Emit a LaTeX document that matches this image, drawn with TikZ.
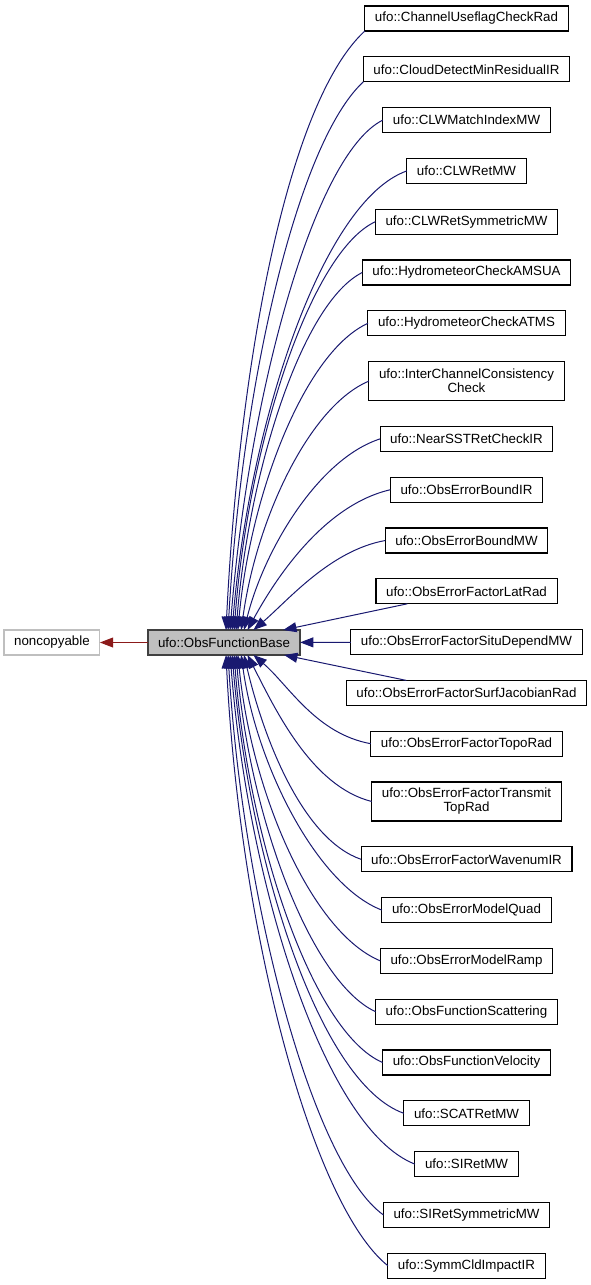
\documentclass[tikz,border=0pt]{standalone}
\usepackage{fontspec}
\setmainfont{Liberation Sans}
\usepackage{tikz}
\usetikzlibrary{arrows.meta}
\usetikzlibrary{positioning}
\definecolor{edgeblue}{HTML}{191970}
\definecolor{edgered}{HTML}{8B1A1A}
\definecolor{greyfill}{HTML}{BFBFBF}
\definecolor{greyline}{HTML}{404040}
\tikzstyle{block} = [draw, rectangle, fill = white, line width = 0.8pt, inner xsep = 7.6pt, inner ysep = 0pt, outer sep = 0pt, minimum height = 18.75pt, align = center, font = \fontsize{10}{10.5}\selectfont]
\tikzstyle{tall} = [minimum height = 29.25pt]
\tikzstyle{arrow} = [edgeblue, line width = 0.75pt, -{Triangle[length = 10pt, width = 7.5pt]}]
\tikzstyle{redarrow} = [edgered, line width = 0.75pt, -{Triangle[length = 10pt, width = 7.5pt]}]

\begin{document}
\begin{tikzpicture}[x = 0.75pt, y = -0.75pt]
		\useasboundingbox (0,0) rectangle (591,1285);
		
			% base class and its parent
			\node[block, fill = greyfill, draw = greyline, line width = 1pt] (obsbase) at (224,642.5) {ufo::ObsFunctionBase};
			\node[block, draw = greyfill, left = 36pt of obsbase] (noncopy) {noncopyable};
			
			% derived classes, upper half
			\node[block] (chanflag) at (466.5,18.5) {ufo::ChannelUseflagCheckRad};
			\node[block, below = 19.35pt of chanflag] (clouddet) {ufo::CloudDetectMinResidualIR};
			\node[block, below = 19.35pt of clouddet] (clwmatch) {ufo::CLWMatchIndexMW};
			\node[block, below = 19.35pt of clwmatch] (clwret) {ufo::CLWRetMW};
			\node[block, below = 19.35pt of clwret] (clwsym) {ufo::CLWRetSymmetricMW};
			\node[block, below = 19.35pt of clwsym] (hydroamsua) {ufo::HydrometeorCheckAMSUA};
			\node[block, below = 19.35pt of hydroamsua] (hydroatms) {ufo::HydrometeorCheckATMS};
			\node[block, tall, below = 19.35pt of hydroatms] (interchan) {ufo::InterChannelConsistency\\Check};
			\node[block, below = 19.35pt of interchan] (nearsst) {ufo::NearSSTRetCheckIR};
			\node[block, below = 19.35pt of nearsst] (boundir) {ufo::ObsErrorBoundIR};
			\node[block, below = 19.35pt of boundir] (boundmw) {ufo::ObsErrorBoundMW};
			
			% derived classes, middle
			\node[block, below = 19.35pt of boundmw] (latrad) {ufo::ObsErrorFactorLatRad};
			\node[block, below = 19.35pt of latrad] (situdep) {ufo::ObsErrorFactorSituDependMW};
			\node[block, below = 19.35pt of situdep] (surfjac) {ufo::ObsErrorFactorSurfJacobianRad};
			
			% derived classes, lower half
			\node[block, below = 19.35pt of surfjac] (toporad) {ufo::ObsErrorFactorTopoRad};
			\node[block, tall, below = 19.35pt of toporad] (transmit) {ufo::ObsErrorFactorTransmit\\TopRad};
			\node[block, below = 19.35pt of transmit] (wavenum) {ufo::ObsErrorFactorWavenumIR};
			\node[block, below = 19.35pt of wavenum] (modquad) {ufo::ObsErrorModelQuad};
			\node[block, below = 19.35pt of modquad] (modramp) {ufo::ObsErrorModelRamp};
			\node[block, below = 19.35pt of modramp] (scatter) {ufo::ObsFunctionScattering};
			\node[block, below = 19.35pt of scatter] (velocity) {ufo::ObsFunctionVelocity};
			\node[block, below = 19.35pt of velocity] (scatret) {ufo::SCATRetMW};
			\node[block, below = 19.35pt of scatret] (siret) {ufo::SIRetMW};
			\node[block, below = 19.35pt of siret] (sisym) {ufo::SIRetSymmetricMW};
			\node[block, below = 19.35pt of sisym] (symmcld) {ufo::SymmCldImpactIR};
			
			% parent link
			\draw[redarrow] (obsbase) -- (noncopy);
			
			% links into the top of the base
			\draw[arrow] (chanflag.south west) .. controls +(-75,69) and +(14,-280) .. (obsbase.81);
			\draw[arrow] (clouddet.south west) .. controls +(-65,60) and +(14,-250) .. (obsbase.72);
			\draw[arrow] (clwmatch.west) .. controls +(-70,35) and +(18,-230) .. (obsbase.64);
			\draw[arrow] (clwret.west) .. controls +(-85,30) and +(17,-205) .. (obsbase.57);
			\draw[arrow] (clwsym.west) .. controls +(-65,30) and +(14,-185) .. (obsbase.51);
			\draw[arrow] (hydroamsua.west) .. controls +(-60,30) and +(13,-160) .. (obsbase.46);
			\draw[arrow] (hydroatms.west) .. controls +(-62,28) and +(13,-140) .. (obsbase.42);
			\draw[arrow] (interchan.west) .. controls +(-60,25) and +(15,-110) .. (obsbase.36);
			\draw[arrow] (nearsst.west) .. controls +(-62,20) and +(20,-80) .. (obsbase.32);
			\draw[arrow] (boundir.west) .. controls +(-65,15) and +(30,-55) .. (obsbase.28);
			\draw[arrow] (boundmw.west) .. controls +(-55,10) and +(35,-30) .. (obsbase.23);
			
			% straight links
			\draw[arrow] (latrad) -- (obsbase);
			\draw[arrow] (situdep) -- (obsbase);
			\draw[arrow] (surfjac) -- (obsbase);
			
			% links into the bottom of the base
			\draw[arrow] (toporad.west) .. controls +(-55,-10) and +(35,30) .. (obsbase.-23);
			\draw[arrow] (transmit.west) .. controls +(-60,-15) and +(28,55) .. (obsbase.-28);
			\draw[arrow] (wavenum.west) .. controls +(-58,-20) and +(20,85) .. (obsbase.-32);
			\draw[arrow] (modquad.west) .. controls +(-65,-25) and +(15,110) .. (obsbase.-36);
			\draw[arrow] (modramp.west) .. controls +(-68,-28) and +(14,140) .. (obsbase.-42);
			\draw[arrow] (scatter.west) .. controls +(-65,-30) and +(13,160) .. (obsbase.-46);
			\draw[arrow] (velocity.west) .. controls +(-70,-30) and +(14,185) .. (obsbase.-51);
			\draw[arrow] (scatret.west) .. controls +(-85,-30) and +(17,205) .. (obsbase.-57);
			\draw[arrow] (siret.west) .. controls +(-90,-35) and +(18,230) .. (obsbase.-64);
			\draw[arrow] (sisym.west) .. controls +(-70,-50) and +(15,250) .. (obsbase.-72);
			\draw[arrow] (symmcld.west) .. controls +(-75,-60) and +(14,280) .. (obsbase.-81);
		
		\end{tikzpicture}
\end{document}
